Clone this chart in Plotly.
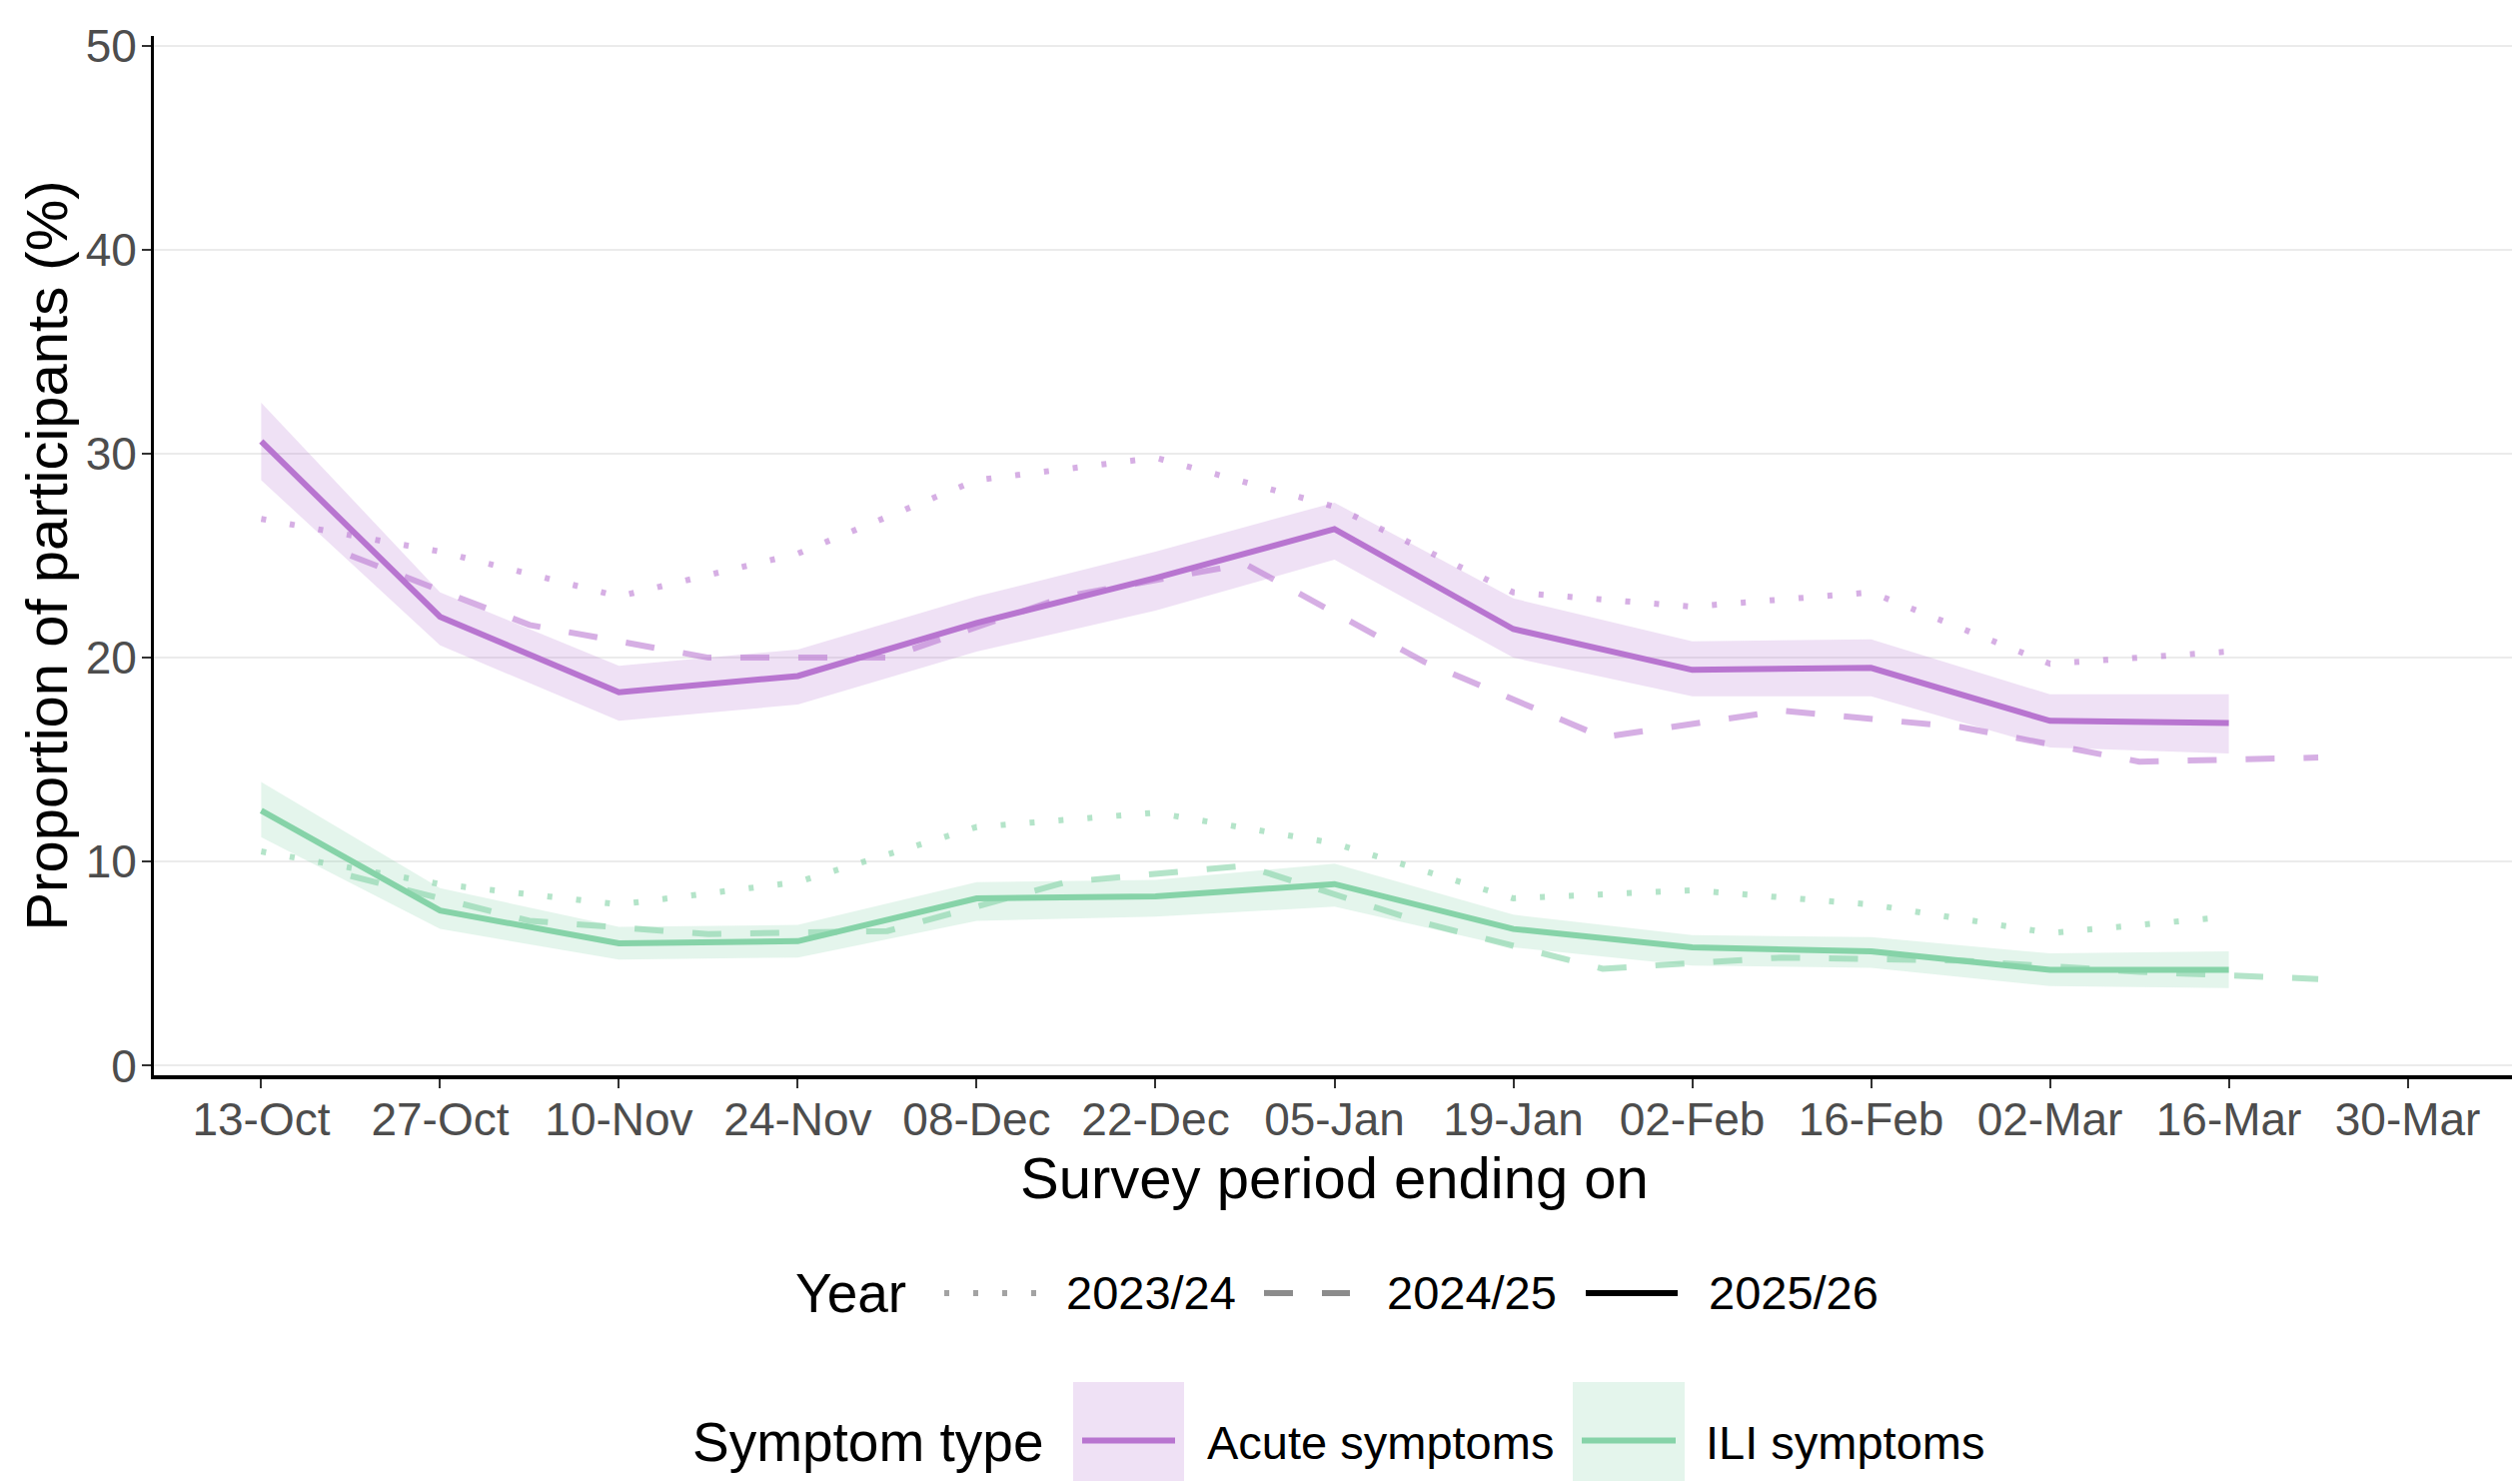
import plotly.graph_objects as go

# ---------------- data ----------------
# survey period end dates (2025/26 season); 2023/24 aligned to same dates
dates_2526 = ["2025-10-13", "2025-10-27", "2025-11-10", "2025-11-24", "2025-12-08", "2025-12-22",
              "2026-01-05", "2026-01-19", "2026-02-02", "2026-02-16", "2026-03-02", "2026-03-16"]
dates_2324 = dates_2526
# 2024/25 periods aligned onto the current season's calendar
dates_2425 = ["2025-10-20", "2025-11-03", "2025-11-17", "2025-12-01", "2025-12-15", "2025-12-29",
              "2026-01-12", "2026-01-26", "2026-02-09", "2026-02-23", "2026-03-09", "2026-03-23"]

tick_dates = dates_2526 + ["2026-03-30"]
tick_labels = ["13-Oct", "27-Oct", "10-Nov", "24-Nov", "08-Dec", "22-Dec", "05-Jan",
               "19-Jan", "02-Feb", "16-Feb", "02-Mar", "16-Mar", "30-Mar"]

acute_2526 = [30.6, 22.0, 18.3, 19.1, 21.7, 23.9, 26.3, 21.4, 19.4, 19.5, 16.9, 16.8]
acute_2526_lo = [28.7, 20.6, 16.9, 17.7, 20.3, 22.3, 24.8, 20.0, 18.1, 18.1, 15.6, 15.3]
acute_2526_hi = [32.5, 23.2, 19.6, 20.4, 23.0, 25.2, 27.6, 22.9, 20.8, 20.9, 18.2, 18.2]
acute_2425 = [25.0, 21.6, 20.0, 20.0, 23.0, 24.6, 19.8, 16.1, 17.4, 16.6, 14.9, 15.1]
acute_2324 = [26.8, 25.2, 23.0, 25.1, 28.7, 29.8, 27.4, 23.2, 22.5, 23.2, 19.7, 20.3]

ili_2526 = [12.5, 7.6, 6.0, 6.1, 8.2, 8.3, 8.9, 6.7, 5.8, 5.6, 4.7, 4.7]
ili_2526_lo = [11.2, 6.7, 5.2, 5.3, 7.1, 7.3, 7.8, 5.8, 4.9, 4.8, 3.9, 3.8]
ili_2526_hi = [13.9, 8.7, 6.8, 6.9, 9.0, 9.1, 9.9, 7.4, 6.4, 6.3, 5.5, 5.6]
ili_2425 = [9.3, 7.1, 6.45, 6.6, 9.0, 9.8, 7.0, 4.75, 5.3, 5.15, 4.6, 4.25]
ili_2324 = [10.5, 8.9, 7.9, 9.0, 11.7, 12.4, 10.9, 8.2, 8.6, 7.9, 6.5, 7.3]

year_labels = ["2023/24", "2024/25", "2025/26"]
symptom_labels = ["Acute symptoms", "ILI symptoms"]

# ---------------- styles ----------------
FONT = "Liberation Sans, Arial, sans-serif"
PURPLE = "#B875D0"
GREEN = "#86D3A8"
PURPLE_LIGHT = "rgba(184,117,208,0.58)"
GREEN_LIGHT = "rgba(134,211,168,0.62)"
PURPLE_FILL = "rgba(184,117,208,0.22)"
GREEN_FILL = "rgba(134,211,168,0.22)"
LW = 6
DOT = "5px,24px"
DASH = "29px,29px"

W, H = 2522, 1482
OFF = 8  # page body margin
ML, MR, MT, MB = 146, 13, 18, 414
PW = W - ML - MR
PH = H - MT - MB
PLOT_LEFT = OFF + ML
PLOT_BOTTOM = OFF + H - MB


def px(xpage):
    return (xpage - PLOT_LEFT) / PW


def py(ypage):
    return (PLOT_BOTTOM - ypage) / PH


fig = go.Figure()

# confidence bands
for lo, hi, fc in [(acute_2526_lo, acute_2526_hi, PURPLE_FILL), (ili_2526_lo, ili_2526_hi, GREEN_FILL)]:
    fig.add_trace(go.Scatter(x=dates_2526 + dates_2526[::-1], y=hi + lo[::-1], fill="toself",
                             fillcolor=fc, line=dict(width=0), mode="lines",
                             hoverinfo="skip", showlegend=False))

# previous seasons
for x, y, col, dash, nm in [
    (dates_2324, acute_2324, PURPLE_LIGHT, DOT, "Acute 2023/24"),
    (dates_2324, ili_2324, GREEN_LIGHT, DOT, "ILI 2023/24"),
    (dates_2425, acute_2425, PURPLE_LIGHT, DASH, "Acute 2024/25"),
    (dates_2425, ili_2425, GREEN_LIGHT, DASH, "ILI 2024/25"),
]:
    fig.add_trace(go.Scatter(x=x, y=y, mode="lines", name=nm,
                             line=dict(color=col, width=LW, dash=dash), showlegend=False))

# current season
for y, col, nm in [(acute_2526, PURPLE, "Acute 2025/26"), (ili_2526, GREEN, "ILI 2025/26")]:
    fig.add_trace(go.Scatter(x=dates_2526, y=y, mode="lines", name=nm,
                             line=dict(color=col, width=LW), showlegend=False))

# ---------------- manual legends ----------------
shapes = []
annotations = []

# Year row
row1 = 1296
annotations.append(dict(text="Year", x=px(794), y=py(row1), xref="paper", yref="paper",
                        xanchor="left", yanchor="middle", showarrow=False,
                        font=dict(size=55, color="black", family=FONT)))
year_keys = [(945, 1037, "#A3A3A3", DOT), (1265, 1351, "#8C8C8C", DASH), (1587, 1679, "#000000", "solid")]
year_text_x = [1065, 1386, 1708]
for (x0, x1, col, dash), tx, lab in zip(year_keys, year_text_x, year_labels):
    shapes.append(dict(type="line", xref="paper", yref="paper", x0=px(x0), x1=px(x1),
                       y0=py(row1), y1=py(row1), line=dict(color=col, width=LW, dash=dash)))
    annotations.append(dict(text=lab, x=px(tx), y=py(row1), xref="paper", yref="paper",
                            xanchor="left", yanchor="middle", showarrow=False,
                            font=dict(size=47, color="black", family=FONT)))

# Symptom type row
row2 = 1447
annotations.append(dict(text="Symptom type", x=px(691), y=py(row2), xref="paper", yref="paper",
                        xanchor="left", yanchor="middle", showarrow=False,
                        font=dict(size=55, color="black", family=FONT)))
sym_keys = [(1074, 1185, PURPLE, PURPLE_FILL), (1574, 1686, GREEN, GREEN_FILL)]
sym_text_x = [1206, 1705]
for (x0, x1, col, fc), tx, lab in zip(sym_keys, sym_text_x, symptom_labels):
    shapes.append(dict(type="rect", xref="paper", yref="paper", x0=px(x0), x1=px(x1),
                       y0=py(1386), y1=py(1490), fillcolor=fc, line=dict(width=0), layer="below"))
    shapes.append(dict(type="line", xref="paper", yref="paper", x0=px(x0 + 9), x1=px(x1 - 9),
                       y0=py(1445), y1=py(1445), line=dict(color=col, width=LW)))
    annotations.append(dict(text=lab, x=px(tx), y=py(row2), xref="paper", yref="paper",
                            xanchor="left", yanchor="middle", showarrow=False,
                            font=dict(size=47, color="black", family=FONT)))

fig.update_layout(
    width=W, height=H,
    margin=dict(l=ML, r=MR, t=MT, b=MB),
    paper_bgcolor="white", plot_bgcolor="white",
    font=dict(family=FONT, color="black"),
    showlegend=False,
    shapes=shapes,
    annotations=annotations,
    xaxis=dict(
        type="date",
        range=["2025-10-04 14:24", "2026-04-07 09:36"],
        tickmode="array", tickvals=tick_dates, ticktext=tick_labels,
        showgrid=False, zeroline=False,
        showline=True, linecolor="black", linewidth=4,
        ticks="outside", ticklen=9, tickwidth=2, tickcolor="#333333",
        ticklabelstandoff=-8, ticklabeloverflow="allow",
        tickfont=dict(size=46, color="#4D4D4D", family=FONT),
        title=dict(text="Survey period ending on", font=dict(size=58, color="black", family=FONT),
                   standoff=0),
    ),
    yaxis=dict(
        range=[-0.47, 50.47],
        tickmode="array", tickvals=[0, 10, 20, 30, 40, 50],
        showgrid=True, gridcolor="#EBEBEB", gridwidth=2, zeroline=False,
        showline=True, linecolor="black", linewidth=3,
        ticks="outside", ticklen=9, tickwidth=2, tickcolor="#333333",
        ticklabelstandoff=-4, ticklabeloverflow="allow",
        tickfont=dict(size=46, color="#4D4D4D", family=FONT),
        title=dict(text="Proportion of participants (%)", font=dict(size=58, color="black", family=FONT),
                   standoff=0),
    ),
)

fig.write_html("out.html")
